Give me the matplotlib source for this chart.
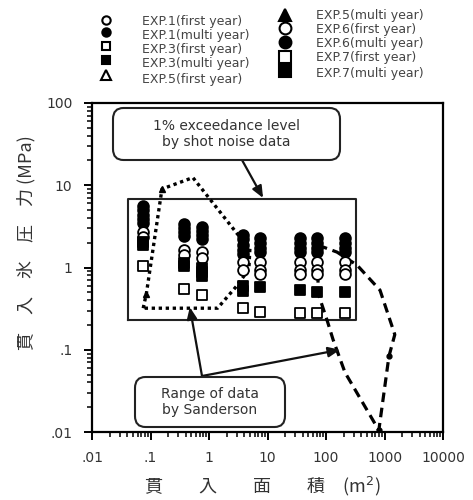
import matplotlib
matplotlib.use("Agg")
import matplotlib.pyplot as plt
from matplotlib.lines import Line2D
from matplotlib.patches import FancyBboxPatch

plt.rcParams['font.family'] = ['DejaVu Sans', 'Noto Sans CJK JP']

# ---- data -------------------------------------------------------------
# EXP.1 / EXP.3 : small indentors
exp1_first_x = [0.075, 0.075, 0.37, 0.37, 0.75, 0.75]
exp1_first_y = [2.7, 2.35, 1.65, 1.4, 1.55, 1.3]
exp1_multi_x = [0.075, 0.075, 0.075, 0.075, 0.075,
                0.37, 0.37, 0.37, 0.37,
                0.75, 0.75, 0.75, 0.75]
exp1_multi_y = [5.6, 5.0, 4.4, 3.9, 3.5,
                3.4, 3.0, 2.7, 2.4,
                3.1, 2.8, 2.5, 2.2]
exp3_first_x = [0.075, 0.37, 0.75]
exp3_first_y = [1.05, 0.55, 0.46]
exp3_multi_x = [0.075, 0.075, 0.37, 0.37, 0.75, 0.75, 0.75]
exp3_multi_y = [2.05, 1.9, 1.15, 1.03, 1.0, 0.87, 0.78]

# EXP.6 / EXP.7 : large indentors
exp6_first_x = [3.8, 3.8, 7.4, 7.4, 7.4, 36, 36, 36, 70, 70, 70, 210, 210, 210]
exp6_first_y = [1.17, 0.94, 1.17, 0.94, 0.83, 1.17, 0.94, 0.83,
                1.17, 0.94, 0.83, 1.17, 0.94, 0.83]
exp6_multi_x = [3.8, 3.8, 3.8, 3.8, 3.8,
                7.4, 7.4, 7.4, 7.4,
                36, 36, 36, 36,
                70, 70, 70, 70,
                210, 210, 210, 210]
exp6_multi_y = [2.5, 2.2, 1.9, 1.65, 1.45,
                2.3, 2.0, 1.75, 1.55,
                2.3, 2.0, 1.75, 1.55,
                2.3, 2.0, 1.75, 1.55,
                2.3, 2.0, 1.75, 1.55]
exp7_first_x = [3.8, 7.4, 36, 70, 210]
exp7_first_y = [0.32, 0.29, 0.28, 0.28, 0.28]
exp7_multi_x = [3.8, 3.8, 7.4, 36, 70, 210]
exp7_multi_y = [0.6, 0.52, 0.58, 0.53, 0.5, 0.5]

# 1% exceedance level (shot noise data)
shot_x = [0.075, 0.085, 0.157, 0.53, 3.0, 5.0, 4.8, 3.0, 1.4, 0.075]
shot_y = [0.32, 0.48, 9.0, 12.4, 2.6, 1.7, 0.95, 0.6, 0.32, 0.32]
shot_mark_x = [0.085, 0.157]
shot_mark_y = [0.48, 9.0]

# range of data by Sanderson
sand_x = [73, 154, 339, 838, 1500, 1190, 800, 211, 132, 104, 73, 73]
sand_y = [1.87, 1.54, 1.07, 0.53, 0.153, 0.083, 0.0105, 0.053, 0.133, 0.23, 0.49, 1.87]
sand_mark_x = [1190, 800]
sand_mark_y = [0.083, 0.0105]

# extent of the tested range (rectangle)
box_x = [0.041, 325]
box_y = [0.23, 6.9]

x_ticks = [0.01, 0.1, 1, 10, 100, 1000, 10000]
x_tick_labels = ['.01', '.1', '1', '10', '100', '1000', '10000']
y_ticks = [0.01, 0.1, 1, 10, 100]
y_tick_labels = ['.01', '.1', '1', '10', '100']

# ---- figure -----------------------------------------------------------
W, H = 473, 500
fig = plt.figure(figsize=(W / 100, H / 100), dpi=100)
ax = fig.add_axes([92 / W, 1 - 432 / H, (443 - 92) / W, (432 - 103) / H])
ax.set_xscale('log')
ax.set_yscale('log')
ax.set_xlim(0.01, 10000)
ax.set_ylim(0.01, 100)

for sp in ax.spines.values():
    sp.set_linewidth(1.6)
ax.set_xticks(x_ticks)
ax.set_xticklabels(x_tick_labels)
ax.set_yticks(y_ticks)
ax.set_yticklabels(y_tick_labels)
ax.tick_params(which='major', direction='out', length=6, width=1.4,
               labelsize=10, labelcolor='#333333', pad=8)
ax.tick_params(which='minor', direction='out', length=3.5, width=1.1)
ax.xaxis.set_minor_formatter(plt.NullFormatter())
ax.yaxis.set_minor_formatter(plt.NullFormatter())

ms_c = 60
ms_s = 58
kw = dict(edgecolors='black', linewidths=1.3, zorder=4)
ax.scatter(exp1_multi_x, exp1_multi_y, s=ms_c, marker='o', c='black', **kw)
ax.scatter(exp1_first_x, exp1_first_y, s=ms_c, marker='o', c='white', **kw)
ax.scatter(exp3_multi_x, exp3_multi_y, s=ms_s, marker='s', c='black', **kw)
ax.scatter(exp3_first_x, exp3_first_y, s=ms_s, marker='s', c='white', **kw)
ax.scatter(exp6_multi_x, exp6_multi_y, s=ms_c, marker='o', c='black', **kw)
ax.scatter(exp6_first_x, exp6_first_y, s=ms_c, marker='o', c='white', **kw)
ax.scatter(exp7_multi_x, exp7_multi_y, s=ms_s, marker='s', c='black', **kw)
ax.scatter(exp7_first_x, exp7_first_y, s=ms_s, marker='s', c='white', **kw)

# rectangle around the tested range
ax.plot([box_x[0], box_x[1], box_x[1], box_x[0], box_x[0]],
        [box_y[0], box_y[0], box_y[1], box_y[1], box_y[0]],
        color='#222222', lw=1.5, zorder=2)

# envelopes
ax.plot(shot_x, shot_y, color='black', lw=2.4, linestyle=(0, (1, 1.1)), zorder=3)
ax.plot(shot_mark_x, shot_mark_y, linestyle='none', marker='^', ms=5,
        color='black', zorder=3)
ax.plot(sand_x, sand_y, color='black', lw=2.3, linestyle=(0, (3, 1.8)), zorder=3)
ax.plot(sand_mark_x, sand_mark_y, linestyle='none', marker='o', ms=3.5,
        color='black', zorder=3)

# callout boxes
def callout(x0, y0, x1, y1, text):
    fx0, fy0 = x0 / W, 1 - y1 / H
    fx1, fy1 = x1 / W, 1 - y0 / H
    box = FancyBboxPatch((fx0, fy0), fx1 - fx0, fy1 - fy0,
                         boxstyle='round,pad=0,rounding_size=0.022',
                         transform=fig.transFigure, facecolor='white',
                         edgecolor='#222222', lw=1.5, zorder=5)
    fig.add_artist(box)
    fig.text((fx0 + fx1) / 2, (fy0 + fy1) / 2, text, ha='center', va='center',
             fontsize=10, color='#333333', linespacing=1.25, zorder=6)

callout(113, 108, 340, 160, '1% exceedance level\nby shot noise data')
callout(135, 377, 285, 427, 'Range of data\nby Sanderson')

arrow = dict(arrowstyle='-|>,head_length=0.7,head_width=0.3', color='#111111',
             lw=1.6, shrinkA=0, shrinkB=0)
ax.annotate('', xy=(8.4, 7.0), xycoords='data',
            xytext=(242 / W, 1 - 160 / H), textcoords='figure fraction',
            arrowprops=arrow)
ax.annotate('', xy=(0.47, 0.33), xycoords='data',
            xytext=(202 / W, 1 - 376 / H), textcoords='figure fraction',
            arrowprops=arrow)
ax.annotate('', xy=(174, 0.10), xycoords='data',
            xytext=(202 / W, 1 - 376 / H), textcoords='figure fraction',
            arrowprops=arrow)

# axis titles
jp = ['Noto Sans CJK JP', 'DejaVu Sans']
fig.text(26 / W, 1 - 243 / H, '貫　入　氷　圧　力 (MPa)', rotation=90,
         ha='center', va='center', fontsize=13, color='#333333', family=jp)
fig.text(262 / W, 1 - 486 / H, '貫　　入　　面　　積　(m$^2$)',
         ha='center', va='center', fontsize=13, color='#333333', family=jp)

# legend
left_entries = [('o', 'white', 6, 'EXP.1(first year)'),
                ('o', 'black', 6, 'EXP.1(multi year)'),
                ('s', 'white', 6, 'EXP.3(first year)'),
                ('s', 'black', 6, 'EXP.3(multi year)'),
                ('^', 'white', 7, 'EXP.5(first year)')]
right_entries = [('^', 'black', 8, 'EXP.5(multi year)'),
                 ('o', 'white', 8.5, 'EXP.6(first year)'),
                 ('o', 'black', 8.5, 'EXP.6(multi year)'),
                 ('s', 'white', 8.5, 'EXP.7(first year)'),
                 ('s', 'black', 8.5, 'EXP.7(multi year)')]
left_mark_y = [20, 32, 46, 60, 75]
left_text_y = [22, 36, 50, 64, 79]
right_mark_y = [15, 28, 42, 57, 71]
right_text_y = [15, 29, 43, 58, 73]

def legend_column(entries, mx, tx, my, ty):
    for (m, fc, size, lab), yy, yt in zip(entries, my, ty):
        fig.add_artist(Line2D([mx / W], [1 - yy / H], transform=fig.transFigure,
                              marker=m, ms=size, mfc=fc, mec='black', mew=1.5,
                              linestyle='none'))
        fig.text(tx / W, 1 - yt / H, lab, ha='left', va='center', fontsize=9,
                 color='#444444')

legend_column(left_entries, 106, 142, left_mark_y, left_text_y)
legend_column(right_entries, 285, 316, right_mark_y, right_text_y)

fig.savefig('out.png', dpi=100)
